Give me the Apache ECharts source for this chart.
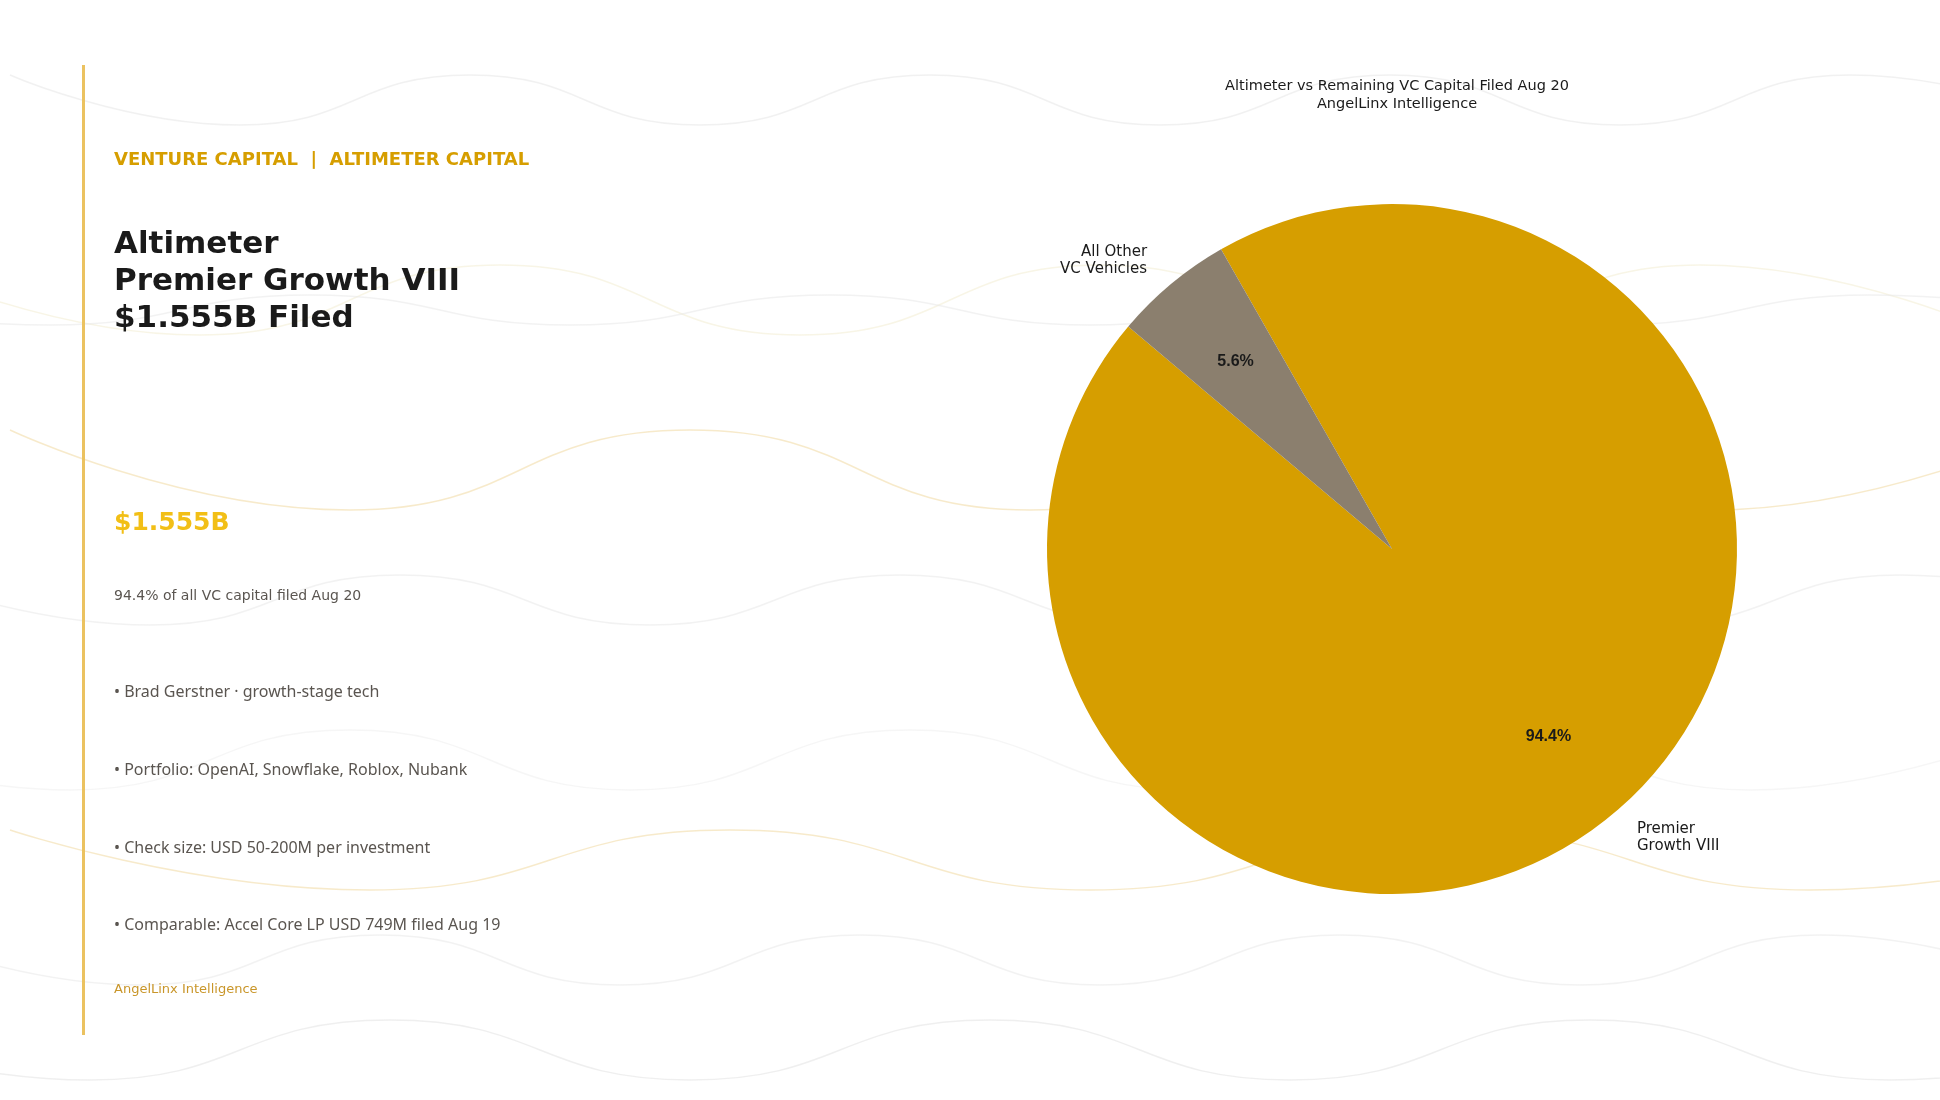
<!DOCTYPE html>
<html>
<head>
    <meta charset="UTF-8">
    <script src="https://cdn.jsdelivr.net/npm/echarts@6/dist/echarts.min.js"></script>
    <style>
        html, body { margin: 0; padding: 0; background: #fff; }
        #main { width: 1940px; height: 1100px; }
    </style>
</head>
<body>
<div id="main"></div>
<script type="text/javascript">
    var names = ['Premier\nGrowth VIII', 'All Other\nVC Vehicles'];
    var shares = [94.4, 5.6];
    var colors = ['#D69E00', '#8B7F6E'];
    var bullets = [
        '• Brad Gerstner · growth-stage tech',
        '• Portfolio: OpenAI, Snowflake, Roblox, Nubank',
        '• Check size: USD 50-200M per investment',
        '• Comparable: Accel Core LP USD 749M filed Aug 19'
    ];

    var pieData = [];
    for (var i = 0; i < names.length; i++) {
        pieData.push({ name: names[i], value: shares[i], itemStyle: { color: colors[i] } });
    }

    // faint decorative waves in the background
    var waves = [];
    var waveRows = [[100, '#e6e6e6', 25, 230], [300, '#f3ecd2', 35, 300], [310, '#e8e8e8', 15, 260], [470, '#f1d9a0', 40, 340],
        [600, '#e8e8e8', 25, 250], [760, '#eeeeee', 30, 280], [860, '#f1d9a0', 30, 360], [960, '#e8e8e8', 25, 240], [1050, '#e2e2e2', 30, 300]];
    waveRows.forEach(function (w, k) {
        var pts = [], s = (k % 3) * 110;
        for (var x = 10 - s, n = 0; x <= 2200; x += w[3], n++) {
            pts.push([x, w[0] + (n % 2 ? w[2] : -w[2])]);
        }
        waves.push({
            type: 'polyline', silent: true, z: -10,
            shape: { points: pts, smooth: 0.5 },
            style: { fill: null, stroke: w[1], lineWidth: 1.5, opacity: 0.55 }
        });
    });

    var left = [
        { type: 'rect', shape: { x: 82, y: 65, width: 3, height: 970 }, style: { fill: '#EBC260' } },
        { type: 'text', left: 114, top: 151, style: { text: 'VENTURE CAPITAL  |  ALTIMETER CAPITAL', fill: '#D69E00', font: 'bold 18px "DejaVu Sans", sans-serif' } },
        { type: 'text', left: 114, top: 226, style: { text: 'Altimeter\nPremier Growth VIII\n$1.555B Filed', fill: '#1a1a1a', font: 'bold 31px "DejaVu Sans", sans-serif', lineHeight: 37 } },
        { type: 'text', left: 114, top: 511, style: { text: '$1.555B', fill: '#F2BF16', font: 'bold 25px "DejaVu Sans", sans-serif' } },
        { type: 'text', left: 114, top: 589, style: { text: '94.4% of all VC capital filed Aug 20', fill: '#5a5550', font: '14px "DejaVu Sans", sans-serif' } },
        { type: 'text', left: 114, top: 983, style: { text: 'AngelLinx Intelligence', fill: '#C9962A', font: '13px "DejaVu Sans", sans-serif' } }
    ];
    var by = [684, 762, 840, 917];
    for (var b = 0; b < bullets.length; b++) {
        left.push({ type: 'text', left: 114, top: by[b], style: { text: bullets[b], fill: '#5a5550', font: '16px "Noto Sans", sans-serif' } });
    }

    var myChart = echarts.init(document.getElementById('main'));
    var option = {
        backgroundColor: '#fff',
        title: {
            text: 'Altimeter vs Remaining VC Capital Filed Aug 20\nAngelLinx Intelligence',
            left: 1392, top: 72, textAlign: 'center',
            textStyle: { fontSize: 14.5, fontWeight: 'normal', color: '#1a1a1a', fontFamily: '"DejaVu Sans", sans-serif', lineHeight: 18 }
        },
        graphic: waves.concat(left),
        series: [
            {
                type: 'pie', center: [1392, 549], radius: [0, 345],
                startAngle: 119.7, clockwise: true, silent: true,
                data: pieData,
                label: { show: true, position: 'outside', formatter: '{b}', fontSize: 15, color: '#1a1a1a', fontFamily: '"DejaVu Sans", sans-serif', lineHeight: 17 },
                labelLine: { show: false, length: 30, length2: 0 }
            },
            {
                type: 'pie', center: [1392, 549], radius: [138, 345],
                startAngle: 119.7, clockwise: true, silent: true,
                data: pieData.map(function (d) { return { name: d.name, value: d.value }; }),
                itemStyle: { color: 'rgba(0,0,0,0)' },
                label: { show: true, position: 'inside', formatter: function (p) { return p.value.toFixed(1) + '%'; }, fontSize: 16, fontWeight: 'bold', color: '#1a1a1a' },
                labelLine: { show: false }
            }
        ]
    };
    myChart.setOption(option);
</script>
</body>
</html>
